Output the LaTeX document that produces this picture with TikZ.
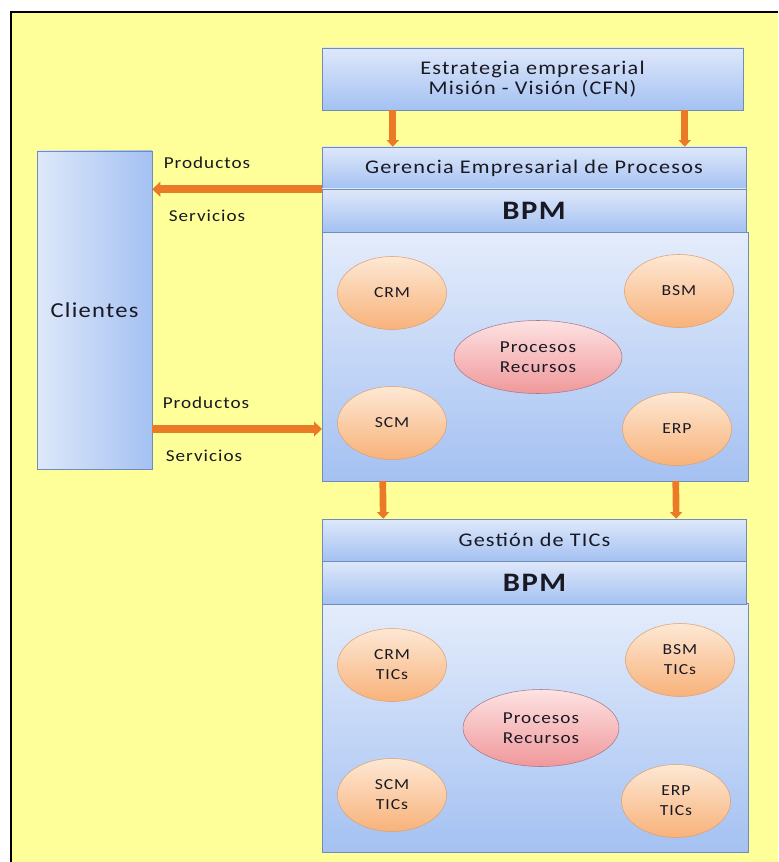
\documentclass[tikz,border=0pt]{standalone}
\usepackage{fontspec}
\setmainfont{Carlito}[FakeStretch=1.15,LetterSpace=6]
\usetikzlibrary{shapes.geometric,arrows.meta}

\definecolor{paper}{RGB}{255,255,153}
\definecolor{boxline}{RGB}{112,140,185}
\definecolor{boxtop}{RGB}{222,232,250}
\definecolor{boxbot}{RGB}{164,193,242}
\definecolor{ovaltop}{RGB}{253,232,212}
\definecolor{ovalbot}{RGB}{248,178,122}
\definecolor{ovalline}{RGB}{222,160,112}
\definecolor{coretop}{RGB}{253,226,226}
\definecolor{corebot}{RGB}{240,152,155}
\definecolor{coreline}{RGB}{165,120,140}
\definecolor{flowor}{RGB}{234,122,38}
\definecolor{inkc}{RGB}{25,25,35}

\tikzset{
  blockbox/.style={draw=boxline, top color=boxtop, bottom color=boxbot, minimum width=318pt,
    minimum height=31.5pt, inner sep=0pt, text=inkc, font=\fontsize{14.5}{15}\selectfont},
  bpmband/.style={blockbox, minimum height=32.25pt, font=\fontsize{20}{22}\selectfont\bfseries},
  bodybox/.style={draw=boxline, top color=boxtop!80!white, bottom color=boxbot, minimum width=319.5pt,
    minimum height=186.5pt, inner sep=0pt},
  sidebox/.style={draw=boxline, left color=boxtop, right color=boxbot, minimum width=86.25pt,
    minimum height=238.5pt, inner sep=0pt, text=inkc, font=\fontsize{16}{18}\selectfont},
  ovalnode/.style={ellipse, draw=ovalline, top color=ovaltop, bottom color=ovalbot, minimum width=81.75pt,
    minimum height=54.75pt, inner sep=0pt, align=center, text=inkc, font=\fontsize{11.5}{15}\selectfont},
  coreoval/.style={ovalnode, draw=coreline, top color=coretop, bottom color=corebot,
    font=\fontsize{12.5}{15}\selectfont},
  flowlabel/.style={text=inkc, inner sep=0pt, font=\fontsize{12.5}{14}\selectfont},
  sidearrow/.style={draw=flowor, line width=6pt, -{Triangle[width=11pt,length=6pt]}},
  downarrow/.style={draw=flowor, line width=5pt, -{Triangle[width=9pt,length=5pt]}}
}

\begin{document}
\begin{tikzpicture}[x=0.75pt,y=0.75pt,yscale=-1]
\useasboundingbox (0,0) rectangle (778,862);
\fill[white] (0,0) rectangle (778,862);

%Shape: Page [id:paper]
\fill[paper] (11,12) rectangle (778,862);
\draw[line width=1pt] (11,862) -- (11,12) -- (778,12);

%Shape: Rectangle [id:estrategia]
\node[blockbox, minimum width=315.75pt, minimum height=46.5pt, align=center] (estr) at (532.5,79)
  {Estrategia empresarial\\Misión - Visión (CFN)};

%Shape: Rectangle [id:gerencia]
\node[bodybox] (areaa) at (535,356.5) {};
\node[blockbox] (ger) at (534,168) {Gerencia Empresarial de Procesos};
\node[bpmband] (bpma) at (534,210.5) {BPM};

%Shape: Rectangle [id:gestion]
\node[bodybox] (areab) at (535,728) {};
\node[blockbox] (ges) at (534.5,540) {Gestión de TICs};
\node[bpmband] (bpmb) at (534.5,582.5) {BPM};

%Shape: Rectangle [id:clientes]
\node[sidebox] (cli) at (94.5,310) {Clientes};

%Shape: Ellipse [id:upper]
\node[ovalnode] (crma) at (392,293) {CRM};
\node[ovalnode] (bsma) at (679,291) {BSM};
\node[coreoval, minimum width=126pt] (proca) at (538,357) {Procesos\\Recursos};
\node[ovalnode] (scma) at (392,423) {SCM};
\node[ovalnode] (erpa) at (677,429) {ERP};

%Shape: Ellipse [id:lower]
\node[ovalnode] (crmb) at (392,665) {CRM\\TICs};
\node[ovalnode] (bsmb) at (680,660) {BSM\\TICs};
\node[coreoval, minimum width=117pt, minimum height=57.75pt] (procb) at (541,728) {Procesos\\Recursos};
\node[ovalnode] (scmb) at (392,795) {SCM\\TICs};
\node[ovalnode] (erpb) at (676,801) {ERP\\TICs};

%Straight Lines [id:arrows]
\coordinate (inlet) at (322,429);
\draw[sidearrow] (ger.south west) -- (ger.south west -| cli.east);
\draw[sidearrow] (cli.east |- inlet) -- (inlet);
\draw[downarrow] ([xshift=53.25pt]estr.south west) -- ([xshift=53.25pt]ger.north west);
\draw[downarrow] ([xshift=272.25pt]estr.south west) -- ([xshift=272.25pt]ger.north west);
\draw[downarrow] ([xshift=45.75pt]areaa.south west) -- ([xshift=45.75pt]ges.north west);
\draw[downarrow] ([xshift=265.5pt]areaa.south west) -- ([xshift=265.5pt]ges.north west);

% Text Node
\node[flowlabel] (prodout) at (207,163) {Productos};
% Text Node
\node[flowlabel] (servout) at (207,216) {Servicios};
% Text Node
\node[flowlabel] (prodin) at (206,403) {Productos};
% Text Node
\node[flowlabel] (servin) at (204,456) {Servicios};

\end{tikzpicture}
\end{document}
